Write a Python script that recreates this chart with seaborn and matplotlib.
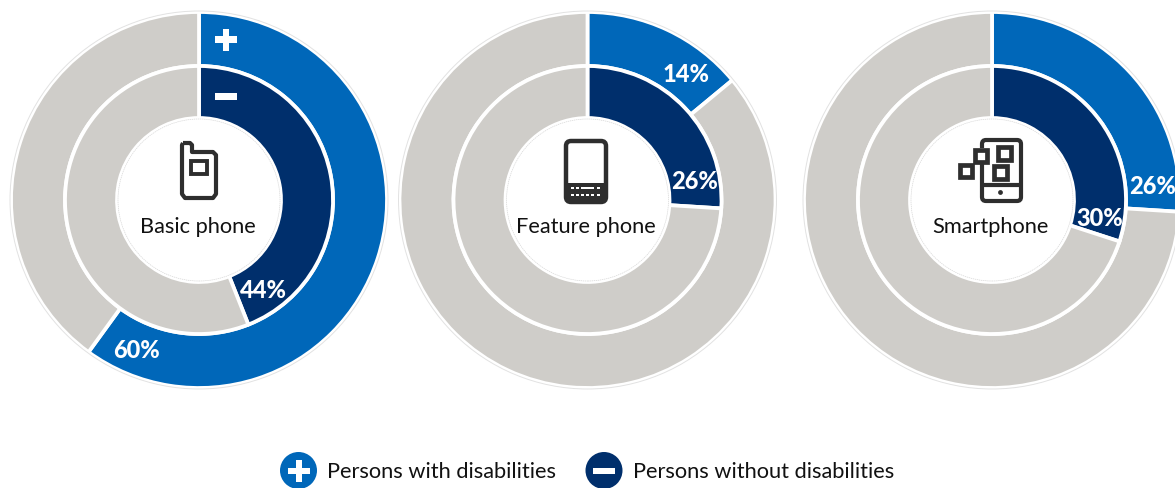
import numpy as np
import matplotlib
matplotlib.use("Agg")
import matplotlib.pyplot as plt
from matplotlib.patches import Circle, FancyBboxPatch, Rectangle, PathPatch
from matplotlib.path import Path
import seaborn as sns

# Survey shares, percent
device_names = ["Basic phone", "Feature phone", "Smartphone"]
with_disabilities = [60, 14, 26]
without_disabilities = [44, 26, 30]
legend_labels = ["Persons with disabilities", "Persons without disabilities"]

BLUE, NAVY, GREY = sns.color_palette(["#0067B9", "#002F6C", "#CFCDC9"])
INK = "#2E2E2E"

sns.set_theme(style="white")
plt.rcParams["font.family"] = ["Lato", "DejaVu Sans"]

W, H = 1175, 489
fig = plt.figure(figsize=(W / 100, H / 100), dpi=100, facecolor="white")

# Ring layout, in pixels
centres = [(199, 201), (587.5, 201), (992, 201)]
R_OUT, R_MID, R_HOLE = 188, 134, 82
HALF = 200
# Degrees back from each wedge's trailing edge to its label
outer_back = [13.0, 12.8, 9.0]
inner_back = [14.4, 14.7, 9.4]


def draw_donut(cx, cy, outer, inner, back_out, back_in):
    ax = fig.add_axes([(cx - HALF) / W, 1 - (cy + HALF) / H, 2 * HALF / W, 2 * HALF / H])
    for value, colour, radius, width in (
        (outer, BLUE, R_OUT, R_OUT - R_MID),
        (inner, NAVY, R_MID, R_MID - R_HOLE),
    ):
        ax.pie([value, 100 - value], colors=[colour, GREY], startangle=90, counterclock=False,
               radius=radius, wedgeprops=dict(width=width, edgecolor="white", linewidth=2.7))
    ax.add_patch(Circle((0, 0), R_OUT + 1, fill=False, ec="#E2E2E2", lw=0.7))
    ax.add_patch(Circle((0, 0), R_HOLE - 1, fill=False, ec="#D8D8D8", lw=0.5, ls=(0, (2, 1))))
    ax.set_xlim(-HALF, HALF)
    ax.set_ylim(-HALF, HALF)
    ax.set_aspect("equal")
    ax.axis("off")
    for value, back, r in ((outer, back_out, 161), (inner, back_in, 109)):
        a = np.deg2rad(value * 3.6 - back)
        ax.text(r * np.sin(a), r * np.cos(a) - 1, f"{value}%", color="white", fontsize=17,
                fontweight=900, ha="center", va="center")


for i in range(3):
    draw_donut(*centres[i], with_disabilities[i], without_disabilities[i], outer_back[i], inner_back[i])

# Overlay for icons, captions and the legend, with pixel units
ov = fig.add_axes([0, 0, 1, 1], zorder=5)
ov.set_xlim(0, W)
ov.set_ylim(H, 0)
ov.axis("off")
ov.patch.set_alpha(0)

for (cx, cy), name, dx in zip(centres, device_names, (-1, -1.5, -2)):
    ov.text(cx + dx, 227, name, fontsize=15.7, color="#111111", ha="center", va="center")


def rbox(x0, y0, x1, y1, rad=3, fc="none", ec=INK, lw=3.0, z=6):
    ov.add_patch(FancyBboxPatch((x0, y0), x1 - x0, y1 - y0,
                                boxstyle=f"round,pad=0,rounding_size={rad}",
                                fc=fc, ec=ec, lw=lw, zorder=z))


def plus(x, y, arm=11, thick=5.5, colour="white"):
    ov.add_patch(Rectangle((x - arm, y - thick / 2 - 0.5), 2 * arm, thick + 1, fc=colour, ec="none", zorder=7))
    ov.add_patch(Rectangle((x - thick / 2 - 0.5, y - arm), thick + 1, 2 * arm, fc=colour, ec="none", zorder=7))


def minus(x, y, arm=11, thick=6.5, colour="white"):
    ov.add_patch(Rectangle((x - arm, y - thick / 2), 2 * arm, thick, fc=colour, ec="none", zorder=7))


# Markers on the first chart's wedges
plus(226, 40.5)
minus(226, 97.5)

# Basic phone icon
verts = [(183, 144), (190, 144), (192, 146), (192, 153), (213, 153), (216, 156), (216, 195),
         (213, 199), (185, 199), (182, 195), (182, 146), (183, 144)]
ov.add_patch(PathPatch(Path(verts), fc="white", ec=INK, lw=3.0, joinstyle="round", zorder=6))
ov.add_patch(Rectangle((190.5, 161.5), 16, 13, fc="none", ec=INK, lw=2.8, zorder=7))

# Feature phone icon
rbox(566, 142, 606, 203, rad=5, lw=3.2)
ov.add_patch(Rectangle((566, 184), 40, 18, fc=INK, ec="none", zorder=6))
for y, xs in ((188.5, (572, 577, 598)), (195.5, (572, 577, 582, 587, 592, 598))):
    for x in xs:
        ov.add_patch(Rectangle((x - 1.5, y - 1), 3, 2, fc="white", ec="none", zorder=7))
ov.add_patch(Rectangle((581, 187.5), 13, 2, fc="white", ec="none", zorder=7))

# Smartphone icon
rbox(982, 141, 1021, 202, rad=4, lw=3.0)
ov.plot([982, 1021], [186, 186], color=INK, lw=3.0, zorder=7)
ov.add_patch(Circle((1000.5, 193.5), 2.4, fc=INK, ec="none", zorder=7))
for x, y, s in ((966, 172, 12), (981, 157, 12), (1004, 154, 13), (1000, 173, 13)):
    ov.add_patch(Rectangle((x - s / 2 - 2, y - s / 2 - 2), s + 4, s + 4, fc="white", ec="none", zorder=7))
    ov.add_patch(Rectangle((x - s / 2, y - s / 2), s, s, fc="white", ec=INK, lw=3.4, zorder=8))

# Legend
ov.add_patch(Circle((298.5, 471.5), 18.5, fc=BLUE, ec="none", zorder=6))
plus(298.5, 471.5, arm=11, thick=5)
ov.add_patch(Circle((604, 471.5), 18.5, fc=NAVY, ec="none", zorder=6))
minus(604, 471.5, arm=11, thick=6)
ov.text(327, 472, legend_labels[0], fontsize=15.7, color="#111111", ha="left", va="center")
ov.text(633, 472, legend_labels[1], fontsize=15.7, color="#111111", ha="left", va="center")

fig.savefig("out.png", dpi=100)
